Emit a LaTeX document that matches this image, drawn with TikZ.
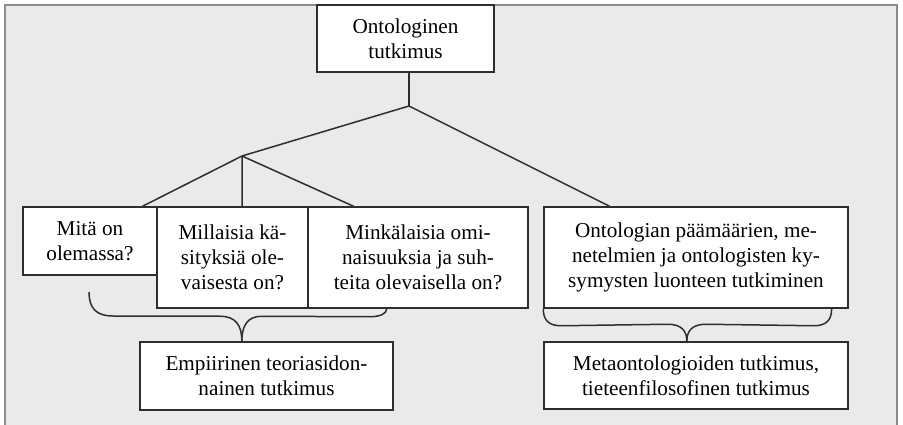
\documentclass[tikz,border=0pt]{standalone}
\usepackage{fontspec}
\setmainfont{Liberation Serif}
\usetikzlibrary{calc}
\definecolor{bgc}{HTML}{EAEAEA}
\definecolor{frm}{HTML}{8C8C8C}
\definecolor{ln}{HTML}{2E2E2E}
\begin{document}
\begin{tikzpicture}[x=1pt,y=-1pt,
  box/.style={draw=ln, line width=1.5pt, fill=white, align=center, inner sep=0pt,
              font=\fontsize{21.2}{25}\selectfont},
  conn/.style={draw=ln, line width=1.5pt},
  brace/.style={draw=ln, line width=1.5pt, line join=round}]
\useasboundingbox (0,0) rectangle (903,425);
\fill[bgc] (5,5) rectangle (897,425);
\draw[frm, line width=2.5pt] (5,425) -- (5,5) -- (897,5) -- (897,425);

% nodes
\node[box, minimum width=177pt, minimum height=67pt] (top) at (405.5,38.5) {Ontologinen\\tutkimus};
\coordinate (J1) at (409,106);
\coordinate (J2) at (242,156);

\node[box, minimum width=134pt, minimum height=68pt] (b1) at (90,241) {Mitä on\\olemassa?};
\node[box, minimum width=151pt, minimum height=101pt] (b2) at (232.5,257.5) {Millaisia kä-\\sityksiä ole-\\vaisesta on?};
\node[box, minimum width=220pt, minimum height=101pt] (b3) at (418,257.5) {Minkälaisia omi-\\naisuuksia ja suh-\\teita olevaisella on?};
\node[box, minimum width=304pt, minimum height=101pt] (b4) at (696,257.5) {Ontologian päämäärien, me-\\netelmien ja ontologisten ky-\\symysten luonteen tutkiminen};
\node[box, minimum width=253pt, minimum height=68pt] (b5) at (266.5,376) {Empiirinen teoriasidon-\\nainen tutkimus};
\node[box, minimum width=304pt, minimum height=67pt] (b6) at (696,375.5) {Metaontologioiden tutkimus,\\tieteenfilosofinen tutkimus};

% connectors
\draw[conn] (top.south -| J1) -- (J1);
\draw[conn] (J1) -- (J2);
\draw[conn] (J1) -- ($(b4.north west)!0.217!(b4.north east)$);
\draw[conn] (J2) -- ($(b1.north west)!0.888!(b1.north east)$);
\draw[conn] (J2) -- ($(b2.north west)!0.563!(b2.north east)$);
\draw[conn] (J2) -- ($(b3.north west)!0.209!(b3.north east)$);

% braces
\coordinate (LS) at (89,292);
\coordinate (LE) at ($(b3.south west)!0.359!(b3.south east)$);
\coordinate (LT) at ($(b5.north west)!0.403!(b5.north east)$);
\draw[brace] (LS) .. controls ($(LS)+(0,17)$) and ($(LS)+(8,24)$) .. ($(LS)+(24,24)$)
  -- ($(LT)+(-22,-25)$) .. controls ($(LT)+(-6,-25)$) and ($(LT)+(0,-16)$) .. (LT);
\draw[brace] (LE) .. controls ($(LE)+(0,5)$) and ($(LE)+(-7,8)$) .. ($(LE)+(-17,8)$)
  -- ($(LT)+(20,-25)$) .. controls ($(LT)+(6,-25)$) and ($(LT)+(0,-16)$) .. (LT);

\coordinate (RS) at (b4.south west);
\coordinate (RE) at ($(b4.south west)!0.944!(b4.south east)$);
\coordinate (RT) at ($(b6.north west)!0.470!(b6.north east)$);
\draw[brace] (RS) .. controls ($(RS)+(0,12)$) and ($(RS)+(6,17)$) .. ($(RS)+(18,17)$)
  -- ($(RT)+(-19,-17)$) .. controls ($(RT)+(-5,-17)$) and ($(RT)+(0,-10)$) .. (RT);
\draw[brace] (RE) .. controls ($(RE)+(0,12)$) and ($(RE)+(-6,17)$) .. ($(RE)+(-18,17)$)
  -- ($(RT)+(19,-17)$) .. controls ($(RT)+(5,-17)$) and ($(RT)+(0,-10)$) .. (RT);
\end{tikzpicture}
\end{document}
